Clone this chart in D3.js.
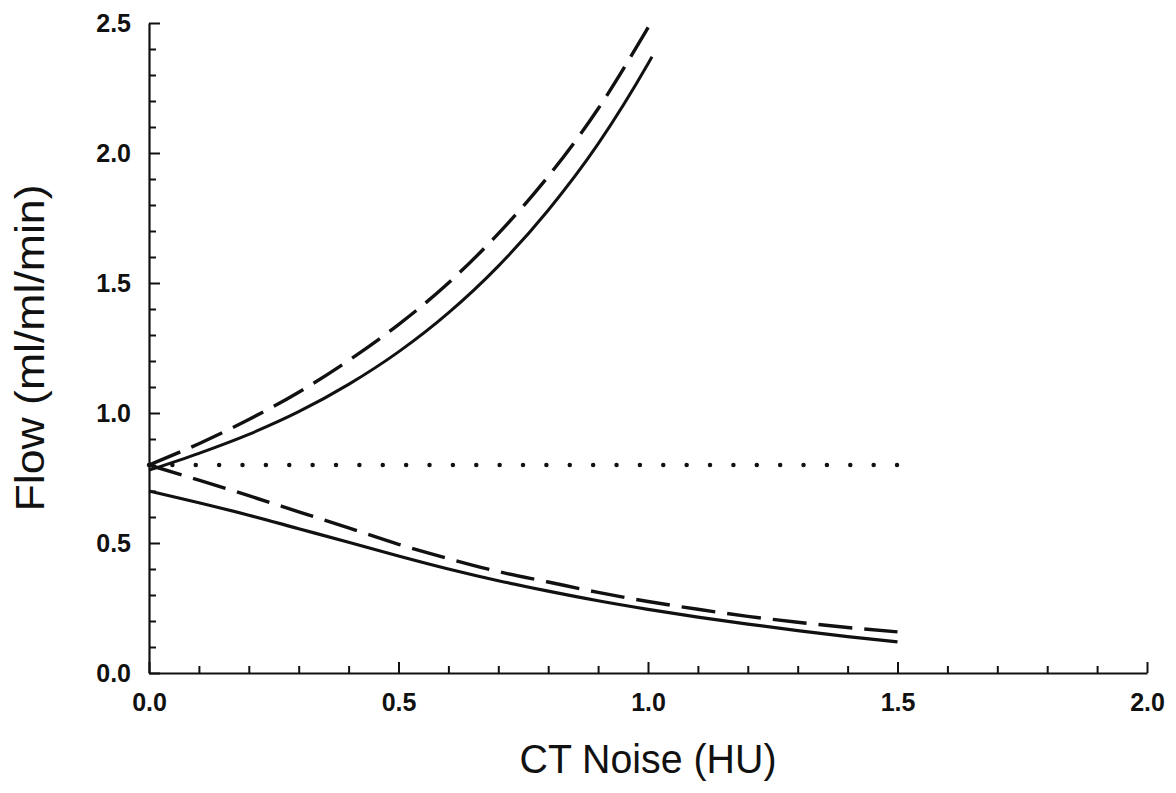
<!DOCTYPE html>
<html>
<head>
<meta charset="utf-8">
<script src="https://cdn.jsdelivr.net/npm/d3@7"></script>
<style>
  html, body { margin: 0; padding: 0; background: #fff; }
  svg { display: block; }
  .tick text { font-family: "Liberation Sans", Arial, sans-serif; font-weight: bold; font-size: 25px; fill: #111; }
  .title { font-family: "Liberation Sans", Arial, sans-serif; font-size: 40px; fill: #111; }
</style>
</head>
<body>
<svg id="chart" width="1176" height="793"></svg>
<script>
// ---- data ----
const xTicksMajor = [0, 0.5, 1.0, 1.5, 2.0];
const yTicksMajor = [0, 0.5, 1.0, 1.5, 2.0, 2.5];
const xTicksMinor = [0.1,0.2,0.3,0.4,0.6,0.7,0.8,0.9,1.1,1.2,1.3,1.4,1.6,1.7,1.8,1.9];
const yTicksMinor = [0.1,0.2,0.3,0.4,0.6,0.7,0.8,0.9,1.1,1.2,1.3,1.4,1.6,1.7,1.8,1.9,2.1,2.2,2.3,2.4];

const upperX = [0, 0.1, 0.2, 0.3, 0.4, 0.5, 0.6, 0.7, 0.8, 0.9, 1.0, 1.008];
const upperSolidY  = [0.78, 0.845, 0.918, 1.005, 1.11, 1.235, 1.385, 1.565, 1.78, 2.035, 2.343, 2.37];
const upperDashedY = [0.80, 0.882, 0.975, 1.08, 1.202, 1.34, 1.50, 1.69, 1.91, 2.17, 2.482, 2.508];

const lowerX = [0, 0.1, 0.2, 0.3, 0.4, 0.5, 0.6, 0.7, 0.8, 0.9, 1.0, 1.1, 1.2, 1.3, 1.4, 1.5];
const lowerSolidY  = [0.70, 0.655, 0.607, 0.555, 0.503, 0.45, 0.40, 0.355, 0.315, 0.278, 0.245, 0.215, 0.188, 0.163, 0.14, 0.12];
const lowerDashedY = [0.80, 0.742, 0.682, 0.62, 0.558, 0.495, 0.44, 0.39, 0.35, 0.31, 0.275, 0.245, 0.218, 0.195, 0.175, 0.158];

const refX = [0, 1.5];
const refY = [0.8, 0.8];

const xLabel = "CT Noise (HU)";
const yLabel = "Flow (ml/ml/min)";

// ---- chart ----
const svg = d3.select("#chart");
const x = d3.scaleLinear().domain([0, 2]).range([149, 1147]);
const y = d3.scaleLinear().domain([0, 2.5]).range([673, 23]);
const ink = "#111";
const fmt = d3.format(".1f");

// minor ticks
svg.append("g").attr("transform", `translate(0,${y(0)})`)
  .call(d3.axisBottom(x).tickValues(xTicksMinor).tickSizeInner(-7).tickSizeOuter(0).tickFormat(""))
  .call(g => g.select(".domain").remove())
  .call(g => g.selectAll("line").attr("stroke", ink).attr("stroke-width", 2));
svg.append("g").attr("transform", `translate(${x(0)},0)`)
  .call(d3.axisLeft(y).tickValues(yTicksMinor).tickSizeInner(-7).tickSizeOuter(0).tickFormat(""))
  .call(g => g.select(".domain").remove())
  .call(g => g.selectAll("line").attr("stroke", ink).attr("stroke-width", 2));

// major axes
svg.append("g").attr("transform", `translate(0,${y(0)})`)
  .call(d3.axisBottom(x).tickValues(xTicksMajor).tickSizeInner(-11).tickSizeOuter(0).tickPadding(20).tickFormat(fmt))
  .call(g => g.select(".domain").attr("stroke", ink).attr("stroke-width", 2.2))
  .call(g => g.selectAll("line").attr("stroke", ink).attr("stroke-width", 2));
svg.append("g").attr("transform", `translate(${x(0)},0)`)
  .call(d3.axisLeft(y).tickValues(yTicksMajor).tickSizeInner(-11).tickSizeOuter(0).tickPadding(18).tickFormat(fmt))
  .call(g => g.select(".domain").attr("stroke", ink).attr("stroke-width", 2.2))
  .call(g => g.selectAll("line").attr("stroke", ink).attr("stroke-width", 2));

// curves
const line = d3.line().x(d => x(d[0])).y(d => y(d[1])).curve(d3.curveMonotoneX);
const zip = (xs, ys) => xs.map((v, i) => [v, ys[i]]);

const series = [
  { pts: zip(upperX, upperSolidY), dash: null, w: 3 },
  { pts: zip(upperX, upperDashedY), dash: "34 12", w: 3.4 },
  { pts: zip(lowerX, lowerSolidY), dash: null, w: 3.2 },
  { pts: zip(lowerX, lowerDashedY), dash: "34 12", w: 3.4 }
];
svg.append("g").selectAll("path").data(series).join("path")
  .attr("d", d => line(d.pts))
  .attr("fill", "none")
  .attr("stroke", ink)
  .attr("stroke-width", d => d.w)
  .attr("stroke-dasharray", d => d.dash);

// dotted reference line
const dotGap = (x(refX[1]) - x(refX[0])) / 32.02;
svg.append("path")
  .attr("d", d3.line().x(d => x(d[0])).y(d => y(d[1]))(zip(refX, refY)))
  .attr("fill", "none")
  .attr("stroke", ink)
  .attr("stroke-width", 4.5)
  .attr("stroke-linecap", "round")
  .attr("stroke-dasharray", `0 ${dotGap}`);

// titles
svg.append("text").attr("class", "title")
  .attr("x", x(1)).attr("y", 773)
  .attr("text-anchor", "middle")
  .attr("textLength", 257).attr("lengthAdjust", "spacingAndGlyphs")
  .text(xLabel);
svg.append("text").attr("class", "title")
  .attr("transform", `translate(44,${348}) rotate(-90)`)
  .attr("text-anchor", "middle")
  .attr("textLength", 327).attr("lengthAdjust", "spacingAndGlyphs")
  .text(yLabel);
</script>
</body>
</html>
